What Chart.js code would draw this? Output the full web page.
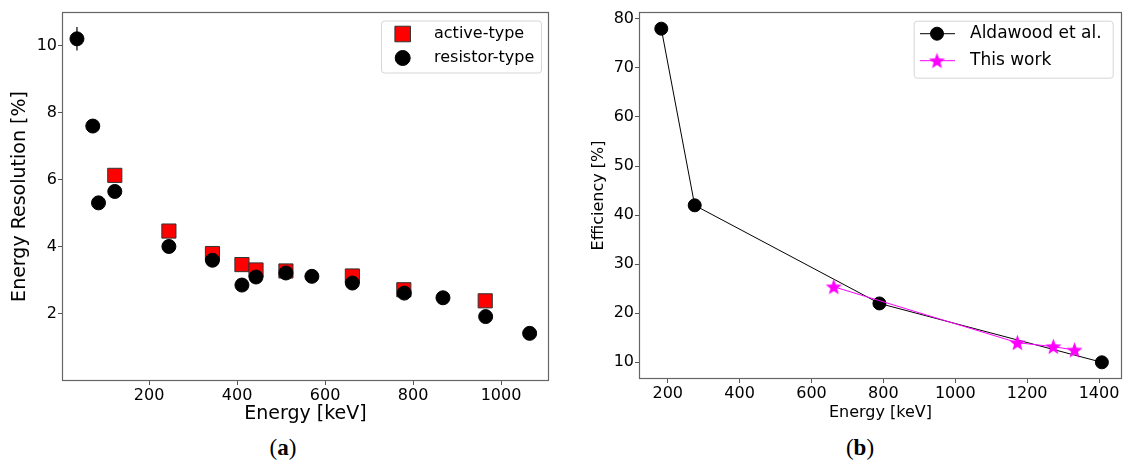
<!DOCTYPE html>
<html>
<head>
<meta charset="utf-8">
<script src="https://cdn.jsdelivr.net/npm/chart.js@4.4.0/dist/chart.umd.min.js"></script>
<style>
  body { margin:0; background:#fff; width:1131px; height:463px; overflow:hidden; position:relative; }
  .panel { position:absolute; top:0; }
  .cap { position:absolute; top:435px; font-family:"Liberation Serif", serif; font-size:23px; color:#000; transform:translateX(-50%); }
</style>
</head>
<body>
<div class="panel" style="left:0"><canvas id="chartA" width="560" height="430"></canvas></div>
<div class="panel" style="left:560px"><canvas id="chartB" width="571" height="430"></canvas></div>
<div class="cap" style="left:283px">(<b>a</b>)</div>
<div class="cap" style="left:860px">(<b>b</b>)</div>
<script>
// (a) energy resolution
const activeEnergy = [122, 245, 344, 411, 443, 511, 662, 779, 964];
const activeRes = [6.13, 4.47, 3.8, 3.47, 3.31, 3.28, 3.13, 2.72, 2.39];
const resistorEnergy = [36, 72, 85, 122, 245, 344, 411, 443, 511, 570, 662, 780, 868, 965, 1065];
const resistorRes = [10.2, 7.6, 5.31, 5.65, 4.01, 3.6, 2.86, 3.1, 3.22, 3.12, 2.92, 2.62, 2.48, 1.92, 1.42];
const resistorErr = [0.35, 0, 0, 0, 0, 0, 0, 0, 0, 0, 0, 0, 0, 0, 0];
const xTicksA = [200, 400, 600, 800, 1000];
const yTicksA = [2, 4, 6, 8, 10];

// (b) efficiency
const aldawoodEnergy = [182, 275, 789, 1408];
const aldawoodEff = [78, 42, 22, 10];
const thisWorkEnergy = [662, 1173, 1273, 1332];
const thisWorkEff = [25.4, 14.0, 13.2, 12.5];
const xTicksB = [200, 400, 600, 800, 1000, 1200, 1400];
const yTicksB = [10, 20, 30, 40, 50, 60, 70, 80];

const FONT = '"DejaVu Sans", sans-serif';
const pts = (xs, ys) => xs.map((x, i) => ({x: x, y: ys[i]}));

// filled 5 point star like matplotlib '*'
function makeStar(color, r){
    const c = document.createElement('canvas');
    const s = Math.ceil(r*2+2);
    c.width = s; c.height = s;
    const g = c.getContext('2d');
    g.fillStyle = color;
    g.beginPath();
    for(let i=0;i<10;i++){
        const rad = i%2 ? r*0.42 : r;
        const ang = -Math.PI/2 + i*Math.PI/5;
        const px = s/2 + rad*Math.cos(ang), py = s/2 + rad*Math.sin(ang) + 0.6;
        i ? g.lineTo(px,py) : g.moveTo(px,py);
    }
    g.closePath();
    g.fill();
    return c;
}
const star = makeStar('#ff00ff', 8.5);

const frame = {
    id:'frame',
    afterDatasetsDraw(chart){
        const a = chart.chartArea, ctx = chart.ctx;
        ctx.save();
        ctx.strokeStyle = '#666';
        ctx.lineWidth = 1.2;
        ctx.strokeRect(Math.round(a.left)+0.5, Math.round(a.top)+0.5, Math.round(a.right-a.left)-1, Math.round(a.bottom-a.top)-1);
        ctx.restore();
    }
};

const errorBars = {
    id:'errorBars',
    beforeDatasetsDraw(chart, args, o){
        if(!o.errors) return;
        const ctx = chart.ctx, xs = chart.scales.x, ys = chart.scales.y;
        const ds = chart.data.datasets[o.dataset];
        ctx.save();
        ctx.strokeStyle = '#000';
        ctx.lineWidth = 1.2;
        ds.data.forEach((p, i) => {
            const e = o.errors[i];
            if(!e) return;
            const x = xs.getPixelForValue(p.x);
            ctx.beginPath();
            ctx.moveTo(x, ys.getPixelForValue(p.y - e));
            ctx.lineTo(x, ys.getPixelForValue(p.y + e));
            ctx.stroke();
        });
        ctx.restore();
    }
};

const boxLegend = {
    id:'boxLegend',
    afterDraw(chart, args, o){
        if(!o.items) return;
        const ctx = chart.ctx, a = chart.chartArea;
        const left = a.right - o.right - o.width, top = a.top + o.top;
        ctx.save();
        ctx.fillStyle = 'rgba(255,255,255,0.8)';
        ctx.strokeStyle = '#d6d6d6';
        ctx.lineWidth = 1;
        ctx.beginPath();
        ctx.roundRect(left+0.5, top+0.5, o.width, o.height, 3);
        ctx.fill();
        ctx.stroke();
        o.items.forEach((it, i) => {
            const ds = chart.data.datasets[it.dataset];
            const y = top + o.firstRow + i*o.rowGap;
            const mx = left + o.markerX;
            if(ds.showLine){
                ctx.strokeStyle = ds.borderColor;
                ctx.lineWidth = ds.borderWidth;
                ctx.beginPath();
                ctx.moveTo(left + o.lineFrom, y);
                ctx.lineTo(left + o.lineTo, y);
                ctx.stroke();
            }
            ctx.fillStyle = ds.pointBackgroundColor;
            ctx.strokeStyle = ds.pointBorderColor;
            ctx.lineWidth = ds.pointBorderWidth;
            Chart.helpers.drawPoint(ctx, {pointStyle: ds.pointStyle, radius: it.radius, borderWidth: ds.pointBorderWidth, rotation: 0}, mx, y);
            ctx.fillStyle = '#000';
            ctx.font = o.fontSize + 'px ' + FONT;
            ctx.textBaseline = 'middle';
            ctx.textAlign = 'left';
            ctx.fillText(ds.label, left + o.textX, y);
        });
        ctx.restore();
    }
};

function axis(min, max, ticks, size, titleText, titleSize, titlePad, tickSize){
    return {
        type:'linear', min:min, max:max,
        afterFit: s => {
            if(s.isHorizontal()){ s.height = size; s.paddingLeft = 0; s.paddingRight = 0; }
            else { s.width = size; s.paddingTop = 0; s.paddingBottom = 0; }
        },
        afterBuildTicks: s => { s.ticks = ticks.map(v => ({value: v})); },
        grid:{ drawOnChartArea:false, drawTicks:true, tickLength:4, color:'#555', lineWidth:1 },
        border:{ display:false },
        ticks:{ color:'#000', padding:1, font:{ family:FONT, size:tickSize }, callback: v => String(v), maxRotation:0, autoSkip:false },
        title:{ display:true, text:titleText, color:'#000', font:{ family:FONT, size:titleSize, lineHeight:1 }, padding: titlePad }
    };
}

new Chart(document.getElementById('chartA'), {
    type:'scatter',
    data:{
        datasets:[{
            label:'active-type',
            data: pts(activeEnergy, activeRes),
            pointStyle:'rect',
            pointRadius:10,
            pointBackgroundColor:'#ff0000',
            pointBorderColor:'#333',
            pointBorderWidth:1,
            order:2
        },{
            label:'resistor-type',
            data: pts(resistorEnergy, resistorRes),
            pointStyle:'circle',
            pointRadius:7,
            pointBackgroundColor:'#000',
            pointBorderColor:'#000',
            pointBorderWidth:1,
            order:1
        }]
    },
    options:{
        responsive:false,
        animation:false,
        layout:{ padding:{ left:0, right:7, top:12, bottom:0 } },
        scales:{
            x: axis(2, 1109, xTicksA, 49, 'Energy [keV]', 19, {bottom:6}, 16),
            y: axis(0, 11, yTicksA, 62, 'Energy Resolution [%]', 19, {top:10.5}, 16)
        },
        plugins:{
            legend:{ display:false },
            tooltip:{ enabled:false },
            errorBars:{ dataset:1, errors: resistorErr },
            boxLegend:{
                items:[{dataset:0, radius:11}, {dataset:1, radius:7.5}],
                width:160, height:52, right:8, top:8.5,
                firstRow:13.5, rowGap:24, markerX:21.7, textX:53, fontSize:16
            }
        }
    },
    plugins:[frame, errorBars, boxLegend]
});

new Chart(document.getElementById('chartB'), {
    type:'scatter',
    data:{
        datasets:[{
            label:'Aldawood et al.',
            data: pts(aldawoodEnergy, aldawoodEff),
            showLine:true,
            borderColor:'#000',
            borderWidth:1,
            pointStyle:'circle',
            pointRadius:6.5,
            pointBackgroundColor:'#000',
            pointBorderColor:'#000',
            pointBorderWidth:1,
            order:2
        },{
            label:'This work',
            data: pts(thisWorkEnergy, thisWorkEff),
            showLine:true,
            borderColor:'#ff00ff',
            borderWidth:1,
            pointStyle: star,
            pointRadius:8,
            pointBackgroundColor:'#ff00ff',
            pointBorderColor:'#ff00ff',
            pointBorderWidth:1,
            order:1
        }]
    },
    options:{
        responsive:false,
        animation:false,
        layout:{ padding:{ left:0, right:1, top:12, bottom:0 } },
        scales:{
            x: axis(120, 1464, xTicksB, 51, 'Energy [keV]', 16, {bottom:9}, 16),
            y: axis(6.6, 81.4, yTicksB, 79, 'Efficiency [%]', 16, {top:30.5}, 16)
        },
        plugins:{
            legend:{ display:false },
            tooltip:{ enabled:false },
            boxLegend:{
                items:[{dataset:0, radius:6.5}, {dataset:1, radius:8}],
                width:199, height:57, right:9.3, top:8.7,
                firstRow:13, rowGap:27, markerX:23.3, lineFrom:6.3, lineTo:41.3, textX:56.3, fontSize:17
            }
        }
    },
    plugins:[frame, boxLegend]
});
</script>
</body>
</html>
